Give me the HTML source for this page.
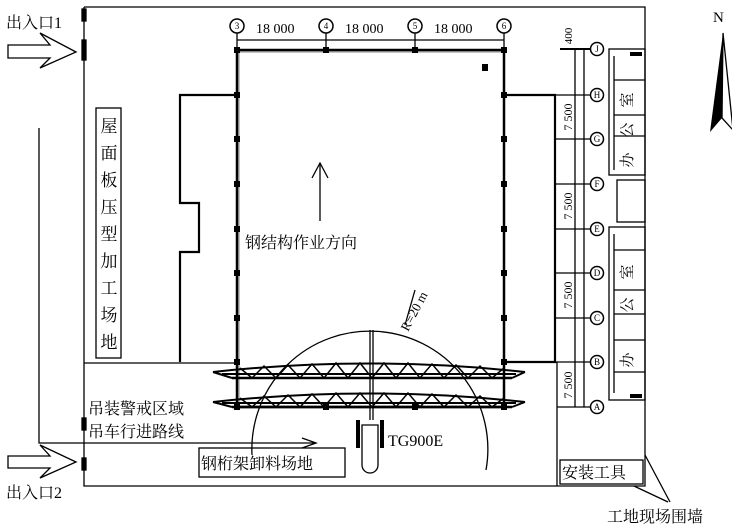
<!DOCTYPE html>
<html><head><meta charset="utf-8"><style>
html,body{margin:0;padding:0;background:#fff;}
svg{display:block;font-family:"Liberation Serif","Noto Serif CJK SC","Noto Sans CJK SC",serif;}
</style></head><body>
<svg width="732" height="529" viewBox="0 0 732 529" xmlns="http://www.w3.org/2000/svg">
<g fill="none" stroke="#000" stroke-width="1.3">
<polyline points="84,7 645,7 645,486 84,486 84,7"/>
<rect x="82" y="9" width="4" height="12" fill="#000"/>
<rect x="82" y="40" width="4" height="20" fill="#000"/>
<rect x="82" y="418" width="4" height="12" fill="#000"/>
<rect x="82" y="458" width="4" height="12" fill="#000"/>
<rect x="237" y="50" width="267" height="357" stroke-width="2.5"/>
<line x1="237" y1="52" x2="504" y2="52" stroke="#888" stroke-width="1"/>
<line x1="239" y1="50" x2="239" y2="407" stroke="#888" stroke-width="1"/>
<line x1="237" y1="40" x2="504" y2="40"/>
<line x1="237" y1="33" x2="237" y2="50"/><line x1="326" y1="33" x2="326" y2="50"/>
<line x1="415" y1="33" x2="415" y2="50"/><line x1="504" y1="33" x2="504" y2="50"/>
<g stroke-width="1.5">
<circle cx="237" cy="26" r="7"/><circle cx="326" cy="26" r="7"/>
<circle cx="415" cy="26" r="7"/><circle cx="504" cy="26" r="7"/>
</g>
<polyline points="237,95 180,95 180,203 199,203 199,252 180,252 180,362" stroke-width="2.2"/>
<line x1="84" y1="363" x2="237" y2="363"/>
<polyline points="504,95 555,95 555,362 504,362" stroke-width="2.2"/>
<line x1="557" y1="362" x2="557" y2="486"/>
<rect x="96" y="108" width="25" height="250"/>
<polyline points="39,128 39,443 316,443"/>
<polyline points="302,438 316,443 302,448"/>
<polygon points="8,45 50,45 40,33 76,52 40,68 50,58 8,58"/>
<polygon points="8,456 50,456 40,445 76,462 40,478 50,468 8,468"/>
<rect x="199" y="448" width="146" height="29"/>
<rect x="560" y="460" width="83" height="24"/>
<line x1="575" y1="48" x2="575" y2="407"/>
<line x1="584" y1="48" x2="584" y2="407"/>
<line x1="560" y1="49" x2="590" y2="49" stroke-width="2"/>
<g>
<line x1="555" y1="95" x2="590" y2="95"/><line x1="555" y1="139" x2="590" y2="139"/>
<line x1="555" y1="184" x2="590" y2="184"/><line x1="555" y1="229" x2="590" y2="229"/>
<line x1="555" y1="273" x2="590" y2="273"/><line x1="555" y1="318" x2="590" y2="318"/>
<line x1="555" y1="362" x2="590" y2="362"/><line x1="557" y1="407" x2="590" y2="407"/>
</g>
<g stroke-width="1.5">
<circle cx="597" cy="49" r="6.5"/><circle cx="597" cy="95" r="6.5"/><circle cx="597" cy="139" r="6.5"/>
<circle cx="597" cy="184" r="6.5"/><circle cx="597" cy="229" r="6.5"/><circle cx="597" cy="273" r="6.5"/>
<circle cx="597" cy="318" r="6.5"/><circle cx="597" cy="362" r="6.5"/><circle cx="597" cy="407" r="6.5"/>
</g>
<rect x="609" y="49" width="36" height="126"/>
<rect x="617" y="180" width="28" height="42"/>
<rect x="609" y="227" width="36" height="173"/>
<polyline points="614,56 614,170"/>
<line x1="614" y1="80" x2="645" y2="80"/><line x1="614" y1="115" x2="645" y2="115"/><line x1="614" y1="136" x2="645" y2="136"/>
<line x1="614" y1="234" x2="614" y2="393"/>
<line x1="614" y1="250" x2="645" y2="250"/><line x1="614" y1="290" x2="645" y2="290"/><line x1="614" y1="314" x2="645" y2="314"/><line x1="614" y1="340" x2="645" y2="340"/><line x1="614" y1="372" x2="645" y2="372"/>
<polyline points="645,455 670,502"/><polyline points="634,486 668,502"/>
<path d="M252,455 A118,118 0 1 1 486,470"/>
<line x1="370" y1="330" x2="370" y2="420"/>
<line x1="373" y1="330" x2="373" y2="420"/>
<path d="M362,425 h16 v40 a8,8 0 0 1 -16,0 z"/>
<line x1="415" y1="290" x2="405" y2="325"/>
<line x1="320" y1="221" x2="320" y2="163"/>
<polyline points="312,178 320,163 328,178"/>
</g>
<g fill="#000">
<rect x="356" y="420" width="4" height="28"/><rect x="380" y="420" width="4" height="28"/>
<rect x="482" y="64" width="6" height="7"/>
<rect x="630" y="52" width="12" height="4"/><rect x="630" y="394" width="12" height="4"/>
</g>
<g fill="#000">
<rect x="234" y="47" width="6" height="6"/><rect x="323" y="47" width="6" height="6"/><rect x="412" y="47" width="6" height="6"/><rect x="501" y="47" width="6" height="6"/>
<rect x="234" y="92" width="6" height="6"/><rect x="234" y="136" width="6" height="6"/><rect x="234" y="181" width="6" height="6"/><rect x="234" y="226" width="6" height="6"/><rect x="234" y="270" width="6" height="6"/><rect x="234" y="315" width="6" height="6"/><rect x="234" y="359" width="6" height="6"/><rect x="234" y="404" width="6" height="6"/>
<rect x="501" y="92" width="6" height="6"/><rect x="501" y="136" width="6" height="6"/><rect x="501" y="181" width="6" height="6"/><rect x="501" y="226" width="6" height="6"/><rect x="501" y="270" width="6" height="6"/><rect x="501" y="315" width="6" height="6"/><rect x="501" y="359" width="6" height="6"/><rect x="501" y="404" width="6" height="6"/>
<rect x="323" y="404" width="6" height="6"/><rect x="412" y="404" width="6" height="6"/>
</g>
<g fill="none" stroke="#000" stroke-width="2">
<path d="M213,372 Q370,355 525,372"/><line x1="222" y1="374" x2="516" y2="374"/>
<line x1="232" y1="378" x2="512" y2="378" stroke-width="2.5"/>
<path d="M213,372 L232,378"/><path d="M525,372 L512,378"/>
<polyline points="240,368 252,378 264,366 276,378 288,365 300,378 312,364 324,378 336,363 348,378 360,363 372,378 384,363 396,378 408,363 420,378 432,364 444,378 456,365 468,378 480,366 492,378 504,368" stroke-width="1.5"/>
<path d="M213,402 Q370,385 525,402"/><line x1="222" y1="403" x2="516" y2="403"/>
<line x1="232" y1="407" x2="512" y2="407" stroke-width="2.5"/>
<path d="M213,402 L232,407"/><path d="M525,402 L512,407"/>
<polyline points="240,398 252,407 264,396 276,407 288,395 300,407 312,394 324,407 336,393 348,407 360,393 372,407 384,393 396,407 408,393 420,407 432,394 444,407 456,395 468,407 480,396 492,407 504,398" stroke-width="1.5"/>
</g>
<polygon points="723,33 710,132 722,118" fill="#000"/>
<polygon points="723,33 733,130 722,118" fill="none" stroke="#000" stroke-width="1.3"/>
<g fill="#000" font-size="16">
<text x="6" y="28">出入口1</text>
<text x="6" y="498">出入口2</text>
<text x="256" y="33" font-size="14">18 000</text>
<text x="345" y="33" font-size="14">18 000</text>
<text x="434" y="33" font-size="14">18 000</text>
<g font-size="9" text-anchor="middle">
<text x="237" y="29">3</text><text x="326" y="29">4</text><text x="415" y="29">5</text><text x="504" y="29">6</text>
<text x="597" y="52">J</text><text x="597" y="98">H</text><text x="597" y="142">G</text><text x="597" y="187">F</text><text x="597" y="232">E</text><text x="597" y="276">D</text><text x="597" y="321">C</text><text x="597" y="365">B</text><text x="597" y="410">A</text>
</g>
<g font-size="12" text-anchor="middle">
<text transform="translate(572,117) rotate(-90)">7 500</text>
<text transform="translate(572,206) rotate(-90)">7 500</text>
<text transform="translate(572,295) rotate(-90)">7 500</text>
<text transform="translate(572,385) rotate(-90)">7 500</text>
<text transform="translate(572,36) rotate(-90)" font-size="11">400</text>
</g>
<g font-size="17" text-anchor="middle">
<text x="109" y="132">屋</text><text x="109" y="159">面</text><text x="109" y="186">板</text><text x="109" y="213">压</text><text x="109" y="240">型</text><text x="109" y="267">加</text><text x="109" y="294">工</text><text x="109" y="321">场</text><text x="109" y="348">地</text>
</g>
<g font-size="15" text-anchor="middle">
<text transform="translate(632,100) rotate(-90)">室</text>
<text transform="translate(632,130) rotate(-90)">公</text>
<text transform="translate(632,160) rotate(-90)">办</text>
<text transform="translate(632,272) rotate(-90)">室</text>
<text transform="translate(632,305) rotate(-90)">公</text>
<text transform="translate(632,360) rotate(-90)">办</text>
</g>
<text x="245" y="248">钢结构作业方向</text>
<text x="88" y="414">吊装警戒区域</text>
<text x="88" y="437">吊车行进路线</text>
<text x="201" y="469">钢桁架卸料场地</text>
<text x="388" y="446">TG900E</text>
<text x="562" y="478">安装工具</text>
<text x="607" y="522">工地现场围墙</text>
<text x="713" y="22" font-size="15">N</text>
<text transform="translate(408,332) rotate(-62)" font-size="13">R=20 m</text>
</g>
</svg>
</body></html>
